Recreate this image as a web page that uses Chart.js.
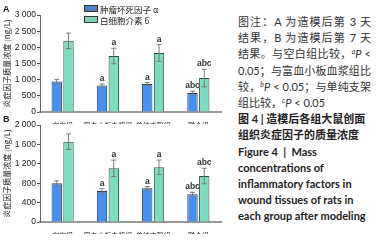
<!DOCTYPE html>
<html>
<head>
<meta charset="utf-8">
<script src="https://cdn.jsdelivr.net/npm/chart.js@4.4.0/dist/chart.umd.min.js"></script>
<style>
  body { margin: 0; width: 381px; height: 241px; background: #fff; position: relative; overflow: hidden; }
  canvas { position: absolute; left: 0; }
  #chartA { top: 0; }
  #chartB { top: 112px; }
  .tag { position: absolute; left: 3px; font: bold 9px "Liberation Sans", Arial, sans-serif; color: #222; }
  .legend { position: absolute; left: 84px; top: 4px; font: 8.5px "Noto Sans CJK SC", sans-serif; color: #222; line-height: 10.5px; }
  .legend span.box { display: inline-block; width: 12px; height: 5px; border: 1px solid #333; margin-right: 2px; vertical-align: 1px; }
  .note { position: absolute; left: 238px; top: 14px; width: 133px; font: 11px "Lato", "Noto Sans CJK SC", sans-serif; color: #333; line-height: 16.2px; }
  .note div { white-space: nowrap; }
  .note .j { text-align: justify; text-align-last: justify; }
  .note .b { font-weight: bold; color: #222; }
  .note sup { font-size: 7px; font-style: italic; vertical-align: 4px; line-height: 0; }
</style>
</head>
<body>
<canvas id="chartA" width="230" height="124"></canvas>
<canvas id="chartB" width="230" height="124"></canvas>
<div class="tag" style="top:4px">A</div>
<div class="tag" style="top:114px">B</div>
<div class="legend">
  <div><span class="box" style="background:#4d80c4"></span>肿瘤坏死因子 α</div>
  <div><span class="box" style="background:#7dd1b3"></span>白细胞介素 6</div>
</div>
<div class="note">
  <div class="j">图注：A 为造模后第 3 天</div>
  <div class="j">结果，B 为造模后第 7 天</div>
  <div class="j">结果。与空白组比较，<sup>a</sup><i>P</i> &lt;</div>
  <div class="j">0.05；与富血小板血浆组比</div>
  <div class="j">较，<sup>b</sup><i>P</i> &lt; 0.05；与单纯支架</div>
  <div>组比较，<sup>c</sup><i>P</i> &lt; 0.05</div>
  <div class="b">图 4 | 造模后各组大鼠创面</div>
  <div class="b">组织炎症因子的质量浓度</div>
  <div class="b">Figure 4&nbsp; |&nbsp; Mass</div>
  <div class="b">concentrations of</div>
  <div class="b">inflammatory factors in</div>
  <div class="b">wound tissues of rats in</div>
  <div class="b">each group after modeling</div>
</div>
<script>
// 数据
const categories = ['空白组', '富血小板血浆组', '单纯支架组', '联合组'];
const seriesNames = ['肿瘤坏死因子 α', '白细胞介素 6'];

// A: 造模后第 3 天
const tnfA = [940, 820, 866, 590];
const tnfAErr = [70, 45, 45, 55];
const il6A = [2200, 1732, 1825, 1050];
const il6AErr = [240, 240, 260, 270];
const tnfAMarks = ['', 'a', 'a', 'abc'];
const il6AMarks = ['', 'a', 'a', 'abc'];
const yTicksA = ['0', '500', '1 000', '1 500', '2 000', '2 500', '3 000'];

// B: 造模后第 7 天
const tnfB = [798, 639, 695, 571];
const tnfBErr = [50, 50, 35, 40];
const il6B = [1656, 1107, 1128, 948];
const il6BErr = [160, 170, 150, 160];
const tnfBMarks = ['', 'a', 'a', 'abc'];
const il6BMarks = ['', 'a', 'a', 'abc'];
const yTicksB = ['0', '200', '400', '600', '800', '1 000', '1 200', '1 400', '1 600', '1 800', '2 000'];

const yTitle = '炎症因子质量浓度 (ng/L)';

// 误差线 + 显著性字母
const errorBars = {
    id: 'errorBars',
    afterDatasetsDraw(chart) {
        const ctx = chart.ctx;
        const y = chart.scales.y;
        chart.data.datasets.forEach((ds, i) => {
            const meta = chart.getDatasetMeta(i);
            meta.data.forEach((bar, j) => {
                const v = ds.data[j], e = ds.errors[j];
                const top = y.getPixelForValue(v + e);
                const bot = y.getPixelForValue(v - e);
                ctx.save();
                ctx.strokeStyle = '#7a7a7a';
                ctx.lineWidth = 1;
                ctx.beginPath();
                ctx.moveTo(bar.x, top); ctx.lineTo(bar.x, bot);
                ctx.moveTo(bar.x - 2.5, top); ctx.lineTo(bar.x + 2.5, top);
                ctx.moveTo(bar.x - 2.5, bot); ctx.lineTo(bar.x + 2.5, bot);
                ctx.stroke();
                const m = ds.marks[j];
                if (m) {
                    ctx.fillStyle = '#333';
                    ctx.font = 'bold 8.5px "Liberation Sans", Arial, sans-serif';
                    ctx.textAlign = 'center';
                    ctx.textBaseline = 'bottom';
                    ctx.fillText(m, bar.x, top - 1);
                }
                ctx.restore();
            });
        });
    }
};

function makeChart(id, tnf, tnfErr, tnfMarks, il6, il6Err, il6Marks, max, step, tickLabels, padTop, padBottom) {
    return new Chart(document.getElementById(id), {
        type: 'bar',
        data: {
            labels: categories,
            datasets: [
                { label: seriesNames[0], data: tnf, errors: tnfErr, marks: tnfMarks,
                  backgroundColor: '#4591f3', borderColor: '#2c3b52', borderWidth: 1 },
                { label: seriesNames[1], data: il6, errors: il6Err, marks: il6Marks,
                  backgroundColor: '#7bdcc0', borderColor: '#2e4d44', borderWidth: 1 }
            ]
        },
        options: {
            responsive: false,
            animation: false,
            categoryPercentage: 0.52,
            barPercentage: 0.88,
            layout: { padding: { top: padTop, right: 9, bottom: padBottom, left: 0 } },
            plugins: { legend: { display: false }, tooltip: { enabled: false } },
            scales: {
                x: {
                    grid: { display: false },
                    border: { display: true, color: '#999', width: 2 },
                    ticks: { color: '#222', padding: 1, maxRotation: 0, autoSkip: false,
                             font: { family: '"Noto Sans CJK SC", sans-serif', size: 7 } },
                    afterFit: (s) => { s.height = 12; }
                },
                y: {
                    min: 0, max: max,
                    ticks: { stepSize: step, color: '#222', padding: 1,
                             font: { family: '"Liberation Sans Narrow", "Liberation Sans", Arial, sans-serif', size: 8.5 },
                             callback: (v, i) => tickLabels[i] },
                    grid: { drawOnChartArea: false, drawTicks: true, tickLength: 3, color: '#555' },
                    border: { display: true, color: '#666', width: 1 },
                    title: { display: true, text: yTitle, color: '#222', padding: { top: 2, bottom: 0 },
                             font: { family: '"Noto Sans CJK SC", sans-serif', size: 8 } },
                    afterFit: (s) => { s.width = 40; }
                }
            }
        },
        plugins: [errorBars]
    });
}

makeChart('chartA', tnfA, tnfAErr, tnfAMarks, il6A, il6AErr, il6AMarks, 3000, 500, yTicksA, 15, 0);
makeChart('chartB', tnfB, tnfBErr, tnfBMarks, il6B, il6BErr, il6BMarks, 2000, 200, yTicksB, 13, 2);
</script>
</body>
</html>
